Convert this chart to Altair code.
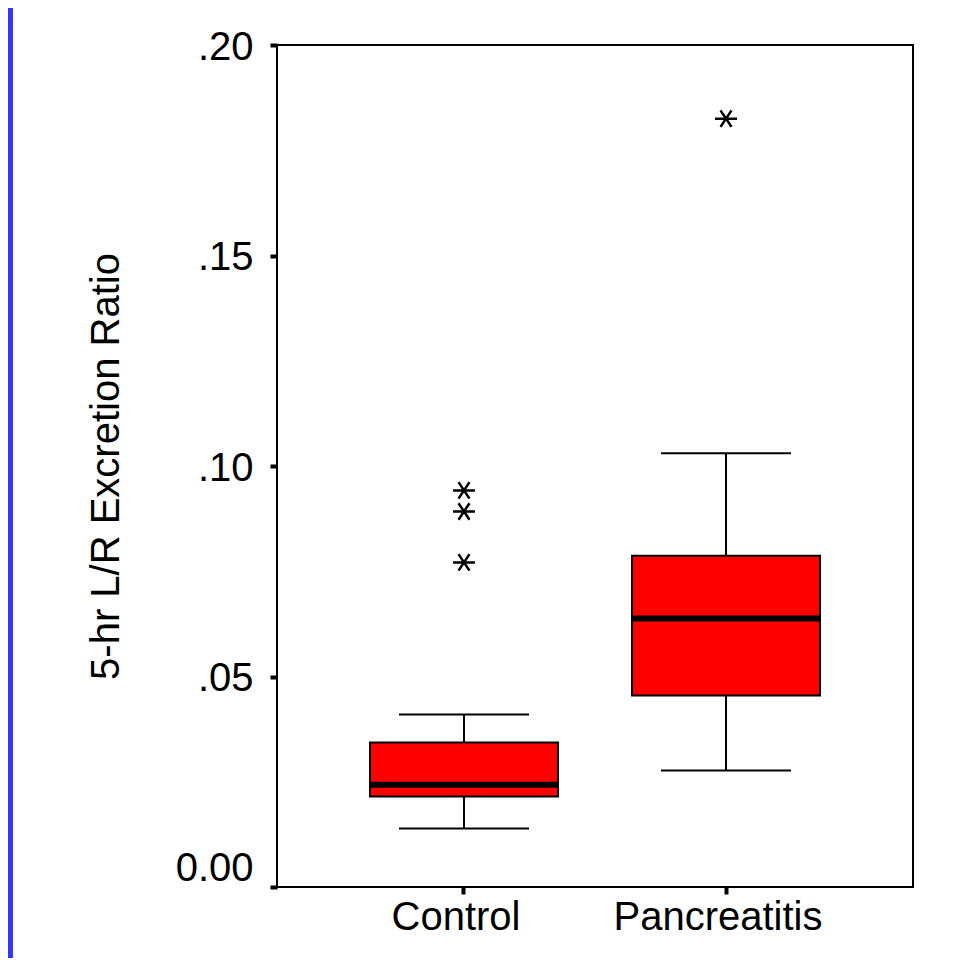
import altair as alt
import pandas as pd

groups = ["Control", "Pancreatitis"]
whisker_low = [0.0139, 0.0277]
q1 = [0.0215, 0.0455]
median = [0.0243, 0.0638]
q3 = [0.0343, 0.0787]
whisker_high = [0.0410, 0.1030]

outlier_group = ["Control", "Control", "Control", "Pancreatitis"]
outlier_value = [0.0942, 0.0892, 0.0771, 0.1825]

y_ticks = [0.0, 0.05, 0.10, 0.15, 0.20]

stats = pd.DataFrame({
    "group": groups, "lo": whisker_low, "q1": q1, "med": median,
    "q3": q3, "hi": whisker_high,
})
outs = pd.DataFrame({"group": outlier_group, "value": outlier_value})

W, H = 636, 842

xscale = alt.Scale(domain=groups, paddingInner=0, paddingOuter=0.2137)
yscale = alt.Scale(domain=[0, 0.2], nice=False, zero=True)

xenc = alt.X("group:N", scale=xscale, sort=groups, title=None,
             axis=alt.Axis(labelAngle=0, labelFont="Liberation Sans", labelFontSize=40,
                           labelColor="black", labelPadding=3, labelOffset=-8,
                           labelLimit=0, labelOverlap=False,
                           tickSize=7, tickWidth=4, tickColor="black",
                           domain=False, grid=False, labelBaseline="top", zindex=1))

yaxis = alt.Axis(values=y_ticks,
                 labelExpr="datum.value == 0 ? '0.00' : replace(format(datum.value, '.2f'), '0.', '.')",
                 labelFont="Liberation Sans", labelFontSize=40, labelColor="black",
                 labelPadding=17, labelLimit=0, labelOverlap=False,
                 labelOffset={"condition": {"test": "datum.value == 0", "value": -19}, "value": 2},
                 tickSize=7, tickWidth=4, tickColor="black", domain=False, grid=False,
                 title="5-hr L/R Excretion Ratio", titleFont="Liberation Sans",
                 titleFontSize=40, titleFontWeight="normal", titleColor="black",
                 titleAngle=270, titleAlign="center", titleBaseline="middle",
                 titleX=-171, titleY=421, titleLimit=0, zindex=1)

one = pd.DataFrame({"a": [0]})
bg = alt.Chart(one).mark_rect(color="white").encode(
    x=alt.value(-264), x2=alt.value(W + 60), y=alt.value(-60), y2=alt.value(H + 100)
)
frame = alt.Chart(one).mark_rect(fill=None, stroke="black", strokeWidth=2).encode(
    x=alt.value(0), x2=alt.value(W), y=alt.value(0), y2=alt.value(H)
)

base = alt.Chart(stats)

whisk = base.mark_rule(color="black", strokeWidth=2, opacity=1).encode(
    x=xenc, y=alt.Y("lo:Q", scale=yscale, axis=yaxis), y2="hi:Q"
)
caps_lo = base.mark_tick(color="black", thickness=2, size=130, opacity=1).encode(
    x="group:N", y="lo:Q"
)
caps_hi = base.mark_tick(color="black", thickness=2, size=130, opacity=1).encode(
    x="group:N", y="hi:Q"
)
box = base.mark_bar(fill="#FF0000", stroke="black", strokeWidth=2, size=188, opacity=1).encode(
    x="group:N", y="q1:Q", y2="q3:Q"
)
med = base.mark_tick(color="black", thickness=6, size=188, opacity=1).encode(
    x="group:N", y="med:Q"
)
star = "M-1,0L1,0M-0.5,-0.75L0.5,0.75M-0.5,0.75L0.5,-0.75"
pts = alt.Chart(outs).mark_point(shape=star, size=484, filled=False, stroke="black",
                                 strokeWidth=2.5, opacity=1).encode(
    x="group:N", y="value:Q"
)

chart = alt.layer(bg, frame, whisk, caps_lo, caps_hi, box, med, pts).properties(
    width=W, height=H,
    autosize=alt.AutoSizeParams(type="none"),
    padding={"left": 269, "top": 37, "right": 42, "bottom": 71},
    background="#3333FF",
).configure_view(stroke=None, fill=None)

chart.save("out.html", embed_options={"renderer": "svg", "actions": False})
